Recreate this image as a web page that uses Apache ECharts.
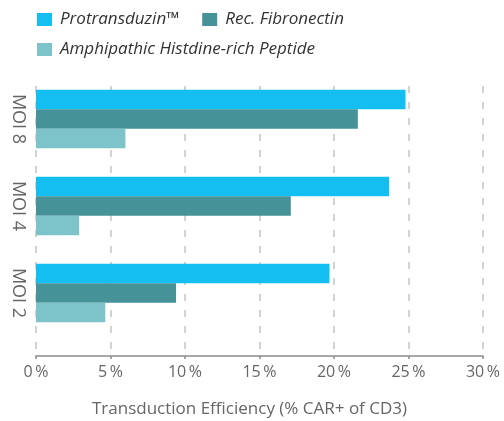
<!DOCTYPE html>
<html>
<head>
<meta charset="utf-8">
<script src="https://cdn.jsdelivr.net/npm/echarts@6/dist/echarts.min.js"></script>
<style>
  html, body { margin: 0; padding: 0; background: #fff; }
  #chart { width: 504px; height: 421px; }
</style>
</head>
<body>
<div id="chart"></div>
<script>
// values, order: MOI 8, MOI 4, MOI 2
var categories = ['MOI 8', 'MOI 4', 'MOI 2']
var protransduzin = [24.8, 23.7, 19.7]
var fibronectin = [21.6, 17.1, 9.4]
var amphipathic = [6.0, 2.9, 4.65]
var seriesNames = ['Protransduzin™', 'Rec. Fibronectin', 'Amphipathic Histdine-rich Peptide']
var xTicks = [0, 5, 10, 15, 20, 25, 30]

var FONT = 'Open Sans'
var colors = ['#14bef0', '#459298', '#7dc3ca']

var chart = echarts.init(document.getElementById('chart'))

var legendText = {
  fontFamily: FONT,
  fontStyle: 'italic',
  fontSize: 17,
  color: '#333',
  padding: [0, 0, 0, 3]
}

chart.setOption({
  animation: false,
  color: colors,
  legend: [
    {
      data: [seriesNames[0], seriesNames[1]],
      left: 37, top: 11,
      padding: 0,
      icon: 'rect',
      itemWidth: 15, itemHeight: 13,
      itemGap: 23,
      textStyle: legendText
    },
    {
      data: [seriesNames[2]],
      left: 37, top: 41,
      padding: 0,
      icon: 'rect',
      itemWidth: 15, itemHeight: 13,
      textStyle: legendText
    }
  ],
  title: {
    text: 'Transduction Efficiency (% CAR+ of CD3)',
    left: 92, top: 401,
    padding: 0,
    textStyle: { fontFamily: FONT, fontSize: 17, fontWeight: 'normal', color: '#666' }
  },
  grid: [
    // bars
    { left: 36, right: 21, top: 75.5, height: 261 },
    // axis + dashed grid lines
    { left: 36, right: 21, top: 86, height: 270 }
  ],
  xAxis: [
    { gridIndex: 0, type: 'value', min: xTicks[0], max: xTicks[xTicks.length - 1], interval: 5, show: false },
    {
      gridIndex: 1,
      type: 'value',
      min: xTicks[0],
      max: xTicks[xTicks.length - 1],
      interval: 5,
      axisLine: { show: true, lineStyle: { color: '#8a8a8a', width: 1.5 } },
      axisTick: { show: true, length: 3, lineStyle: { color: '#8a8a8a', width: 1.5 } },
      axisLabel: {
        margin: 8,
        fontFamily: FONT,
        fontSize: 16,
        color: '#666',
        formatter: '{value}\u2009%'
      },
      splitLine: {
        show: true,
        lineStyle: { color: '#c4c4c4', width: 1.5, type: [7, 9] }
      }
    }
  ],
  yAxis: [
    {
      gridIndex: 0,
      type: 'category',
      inverse: true,
      data: categories,
      axisLine: { show: false },
      axisTick: { show: false },
      axisLabel: {
        rotate: -90,
        margin: 9,
        fontFamily: FONT,
        fontSize: 18,
        color: '#666'
      }
    },
    { gridIndex: 1, type: 'category', show: false, data: categories }
  ],
  series: [
    {
      name: seriesNames[0], type: 'bar', xAxisIndex: 0, yAxisIndex: 0,
      data: protransduzin, barGap: 0, barCategoryGap: '33%'
    },
    {
      name: seriesNames[1], type: 'bar', xAxisIndex: 0, yAxisIndex: 0,
      data: fibronectin, barGap: 0, barCategoryGap: '33%'
    },
    {
      name: seriesNames[2], type: 'bar', xAxisIndex: 0, yAxisIndex: 0,
      data: amphipathic, barGap: 0, barCategoryGap: '33%'
    }
  ]
})
</script>
</body>
</html>
